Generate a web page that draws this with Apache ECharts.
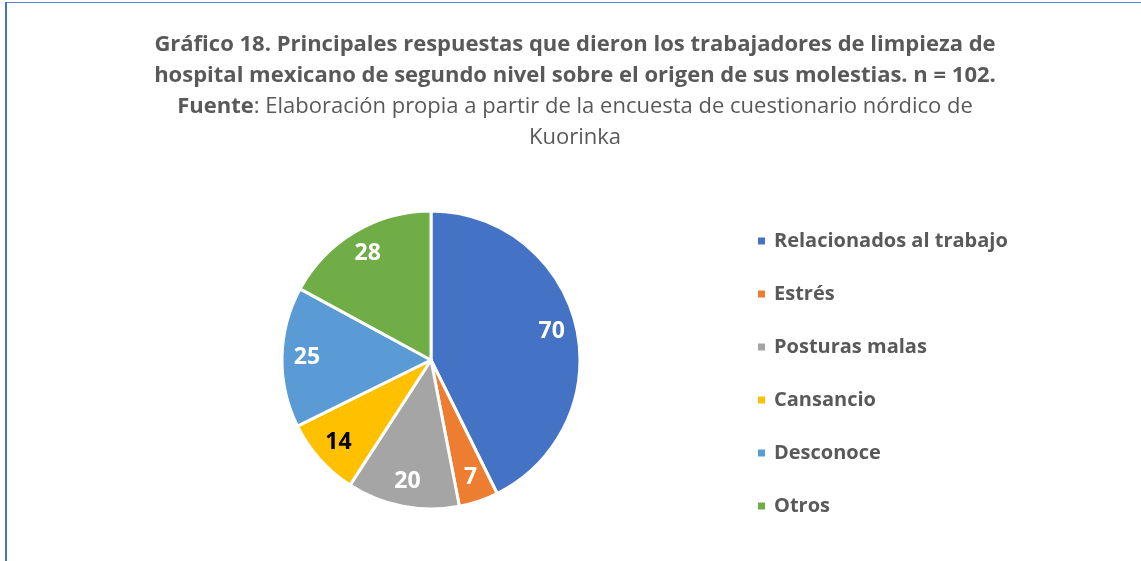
<!DOCTYPE html>
<html>
<head>
<meta charset="utf-8">
<script src="https://cdn.jsdelivr.net/npm/echarts@6/dist/echarts.min.js"></script>
<style>
  html, body { margin: 0; padding: 0; background: #fff; }
  #chart { width: 1141px; height: 561px; }
</style>
</head>
<body>
<div id="chart"></div>
<script>
// datos del gráfico
const categorias = ['Relacionados al trabajo', 'Estrés', 'Posturas malas', 'Cansancio', 'Desconoce', 'Otros']
const valores = [70, 7, 20, 14, 25, 28]
const colores = ['#4472C4', '#ED7D31', '#A5A5A5', '#FFC000', '#5B9BD5', '#70AD47']

const tituloLinea1 = 'Gráfico 18. Principales respuestas que dieron los trabajadores de limpieza de'
const tituloLinea2 = 'hospital mexicano de segundo nivel sobre el origen de sus molestias. n = 102.'
const fuenteNegrita = 'Fuente'
const fuenteTexto = ': Elaboración propia a partir de la encuesta de cuestionario nórdico de'
const fuenteLinea2 = 'Kuorinka'

const chart = echarts.init(document.getElementById('chart'))

const fontFam = '"Open Sans"'
const gris = '#595959'

const pieData = categorias.map((name, i) => ({ name, value: valores[i] }))
// serie invisible solo para colocar las etiquetas más cerca del borde
const labelData = categorias.map((name, i) => ({
  name,
  value: valores[i],
  label: { color: i === 3 ? '#000000' : '#ffffff' }
}))

const option = {
  animation: false,
  color: colores,
  title: {
    left: 575,
    top: 29,
    padding: 0,
    text: '{b|' + tituloLinea1 + '}\n{b|' + tituloLinea2 + '}\n{b|' + fuenteNegrita + '}{n|' + fuenteTexto + '}\n{n|' + fuenteLinea2 + '}',
    textAlign: 'center',
    textStyle: {
      rich: {
        b: { fontFamily: fontFam, fontSize: 22, fontWeight: 'bold', color: gris, lineHeight: 31, align: 'center' },
        n: { fontFamily: fontFam, fontSize: 22, fontWeight: 'normal', color: gris, lineHeight: 31, align: 'center' }
      }
    }
  },
  legend: {
    orient: 'vertical',
    left: 756,
    top: 230,
    padding: 0,
    itemWidth: 9,
    itemHeight: 9,
    itemGap: 31,
    icon: 'rect',
    selectedMode: false,
    data: categorias,
    textStyle: {
      fontFamily: fontFam,
      fontSize: 20,
      fontWeight: 'bold',
      color: gris,
      lineHeight: 22,
      padding: [0, 0, 0, 3]
    }
  },
  graphic: [
    { type: 'rect', shape: { x: 5, y: 2, width: 1136, height: 1 }, style: { fill: '#5b84d0' }, silent: true },
    { type: 'rect', shape: { x: 5, y: 2, width: 2, height: 559 }, style: { fill: '#4472C4' }, silent: true }
  ],
  series: [
    {
      type: 'pie',
      center: [431, 360],
      radius: [0, 149],
      startAngle: 90,
      clockwise: true,
      silent: true,
      data: pieData,
      label: { show: false },
      labelLine: { show: false },
      itemStyle: { borderColor: '#ffffff', borderWidth: 3 }
    },
    {
      type: 'pie',
      center: [431, 360],
      radius: [0, 242],
      startAngle: 90,
      clockwise: true,
      silent: true,
      data: labelData,
      itemStyle: { color: 'transparent', borderWidth: 0 },
      labelLine: { show: false },
      label: {
        show: true,
        position: 'inside',
        formatter: '{c}',
        fontFamily: fontFam,
        fontSize: 23,
        fontWeight: 'bold'
      }
    }
  ]
}

chart.setOption(option)
</script>
</body>
</html>
